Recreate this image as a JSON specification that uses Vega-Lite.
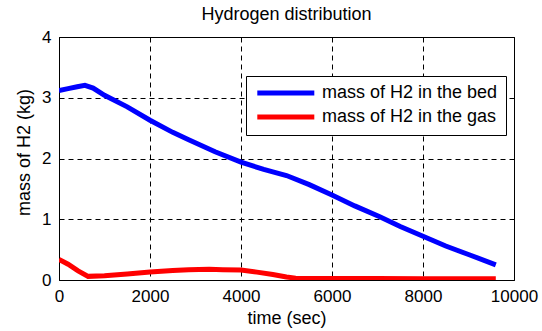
{
  "$schema": "https://vega.github.io/schema/vega-lite/v6.json",
  "autosize": "none",
  "width": 455,
  "height": 243,
  "padding": {"left": 59, "top": 37, "right": 28, "bottom": 51},
  "background": "white",
  "title": {"text": "Hydrogen distribution", "font": "Liberation Sans", "fontSize": 18, "fontWeight": "normal", "color": "black", "offset": 4},
  "config": {
    "view": {"stroke": "black", "strokeWidth": 1},
    "axis": {
      "labelFont": "Liberation Sans", "titleFont": "Liberation Sans",
      "labelFontSize": 17, "titleFontSize": 18, "titleFontWeight": "normal",
      "labelColor": "black", "titleColor": "black",
      "domainColor": "black", "tickColor": "black", "ticks": false,
      "gridColor": "black", "gridDash": [5, 4], "gridOpacity": 1, "gridWidth": 1
    },
    "legend": {
      "labelFont": "Liberation Sans", "labelFontSize": 18, "labelColor": "black", "labelLimit": 400
    }
  },
  "data": {"values": [
    {"t": 0, "m": 3.12, "s": "mass of H2 in the bed"},
    {"t": 200, "m": 3.15, "s": "mass of H2 in the bed"},
    {"t": 400, "m": 3.18, "s": "mass of H2 in the bed"},
    {"t": 570, "m": 3.205, "s": "mass of H2 in the bed"},
    {"t": 750, "m": 3.16, "s": "mass of H2 in the bed"},
    {"t": 1000, "m": 3.04, "s": "mass of H2 in the bed"},
    {"t": 1500, "m": 2.85, "s": "mass of H2 in the bed"},
    {"t": 2000, "m": 2.63, "s": "mass of H2 in the bed"},
    {"t": 2500, "m": 2.43, "s": "mass of H2 in the bed"},
    {"t": 2850, "m": 2.31, "s": "mass of H2 in the bed"},
    {"t": 3430, "m": 2.11, "s": "mass of H2 in the bed"},
    {"t": 4000, "m": 1.94, "s": "mass of H2 in the bed"},
    {"t": 4500, "m": 1.82, "s": "mass of H2 in the bed"},
    {"t": 4800, "m": 1.76, "s": "mass of H2 in the bed"},
    {"t": 5000, "m": 1.72, "s": "mass of H2 in the bed"},
    {"t": 5500, "m": 1.57, "s": "mass of H2 in the bed"},
    {"t": 6000, "m": 1.4, "s": "mass of H2 in the bed"},
    {"t": 6500, "m": 1.22, "s": "mass of H2 in the bed"},
    {"t": 7050, "m": 1.04, "s": "mass of H2 in the bed"},
    {"t": 7500, "m": 0.88, "s": "mass of H2 in the bed"},
    {"t": 8000, "m": 0.72, "s": "mass of H2 in the bed"},
    {"t": 8500, "m": 0.56, "s": "mass of H2 in the bed"},
    {"t": 9000, "m": 0.42, "s": "mass of H2 in the bed"},
    {"t": 9600, "m": 0.25, "s": "mass of H2 in the bed"},
    {"t": 0, "m": 0.34, "s": "mass of H2 in the gas"},
    {"t": 200, "m": 0.26, "s": "mass of H2 in the gas"},
    {"t": 420, "m": 0.15, "s": "mass of H2 in the gas"},
    {"t": 640, "m": 0.06, "s": "mass of H2 in the gas"},
    {"t": 1000, "m": 0.07, "s": "mass of H2 in the gas"},
    {"t": 1500, "m": 0.1, "s": "mass of H2 in the gas"},
    {"t": 2000, "m": 0.13, "s": "mass of H2 in the gas"},
    {"t": 2500, "m": 0.155, "s": "mass of H2 in the gas"},
    {"t": 2850, "m": 0.17, "s": "mass of H2 in the gas"},
    {"t": 3300, "m": 0.175, "s": "mass of H2 in the gas"},
    {"t": 3600, "m": 0.17, "s": "mass of H2 in the gas"},
    {"t": 4000, "m": 0.165, "s": "mass of H2 in the gas"},
    {"t": 4350, "m": 0.13, "s": "mass of H2 in the gas"},
    {"t": 4700, "m": 0.09, "s": "mass of H2 in the gas"},
    {"t": 5000, "m": 0.05, "s": "mass of H2 in the gas"},
    {"t": 5200, "m": 0.03, "s": "mass of H2 in the gas"},
    {"t": 6000, "m": 0.025, "s": "mass of H2 in the gas"},
    {"t": 7000, "m": 0.025, "s": "mass of H2 in the gas"},
    {"t": 8000, "m": 0.02, "s": "mass of H2 in the gas"},
    {"t": 9600, "m": 0.02, "s": "mass of H2 in the gas"}
  ]},
  "mark": {"type": "line", "strokeWidth": 5, "clip": true},
  "encoding": {
    "x": {"field": "t", "type": "quantitative", "title": "time (sec)",
      "scale": {"domain": [0, 10000], "nice": false},
      "axis": {"values": [0, 2000, 4000, 6000, 8000, 10000], "format": "d", "labelPadding": 8, "titlePadding": 5, "labelFlush": false}},
    "y": {"field": "m", "type": "quantitative", "title": "mass of H2 (kg)",
      "scale": {"domain": [0, 4], "nice": false},
      "axis": {"values": [0, 1, 2, 3, 4], "labelPadding": 8, "titlePadding": 8, "titleY": 115, "labelFlush": false}},
    "color": {"field": "s", "type": "nominal", "title": null,
      "scale": {"domain": ["mass of H2 in the bed", "mass of H2 in the gas"], "range": ["#0000FF", "#FF0000"]},
      "legend": {"orient": "none", "legendX": 187, "legendY": 39, "symbolType": "M-1,0L9,0", "symbolSize": 130, "symbolStrokeWidth": 5,
        "strokeColor": "black", "fillColor": "white", "padding": 8, "labelOffset": 50, "rowPadding": 4, "cornerRadius": 0}}
  }
}
